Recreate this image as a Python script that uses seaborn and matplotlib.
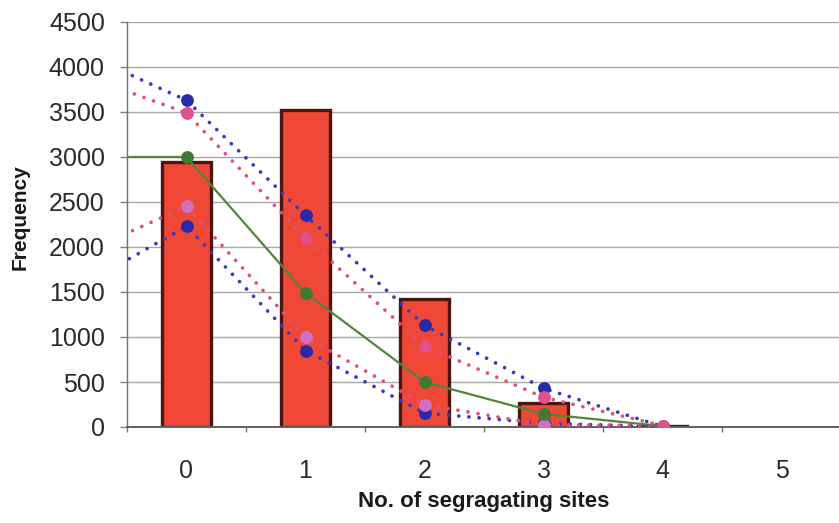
import matplotlib
matplotlib.use("Agg")
import matplotlib.pyplot as plt
import seaborn as sns
import pandas as pd
import numpy as np

# ---- data ----
categories = [0, 1, 2, 3, 4]
frequency = [2940, 3520, 1420, 270, 15]

line_x = [-1, 0, 1, 2, 3, 4]
expected_green = [3000, 3000, 1490, 500, 145, 10]
upper_blue = [4230, 3630, 2350, 1130, 430, 5]
upper_pink = [3970, 3490, 2100, 900, 330, 15]
lower_pink = [1860, 2450, 1000, 250, 25, 15]
lower_blue = [1480, 2230, 850, 155, 40, 5]

tick_labels = ["0", "1", "2", "3", "4", "5"]
y_ticks = [0, 500, 1000, 1500, 2000, 2500, 3000, 3500, 4000, 4500]

sns.set_theme(style="white")
plt.rcParams['font.family'] = ['Liberation Sans', 'DejaVu Sans']

W, H = 839, 523
fig = plt.figure(figsize=(W / 100, H / 100), dpi=100)
left, right, top, bottom = 127, 839, 22, 427
ax = fig.add_axes([left / W, 1 - bottom / H, (right - left) / W, (bottom - top) / H])

bars_df = pd.DataFrame({"sites": categories, "freq": frequency})
sns.barplot(data=bars_df, x="sites", y="freq", ax=ax, color="#f04836",
            saturation=1, width=0.41, edgecolor="#4a1710", linewidth=2.4,
            zorder=2)

def draw(vals, lcolor, mcolor, dotted, lw, ms, z):
    df = pd.DataFrame({"x": line_x, "y": vals})
    ls = (0, (0.01, 2.7)) if dotted else "-"
    sns.lineplot(data=df, x="x", y="y", ax=ax, sort=False, color=lcolor,
                 linewidth=lw, linestyle=ls, zorder=4,
                 dash_capstyle="round")
    pts = df[df["x"] >= 0]
    sns.scatterplot(data=pts, x="x", y="y", ax=ax, color=mcolor, s=ms,
                    edgecolor=mcolor, linewidth=0, zorder=z)

draw(upper_blue, "#3a3ac0", "#2a2aa8", True, 2.7, 85, 5.0)
draw(lower_blue, "#3a3ac0", "#2a2aa8", True, 2.7, 85, 5.0)
draw(lower_pink, "#e0507e", "#d070c0", True, 2.7, 85, 5.1)
draw(expected_green, "#52843c", "#3e7a34", False, 1.6, 85, 5.2)
draw(upper_pink, "#e0507e", "#e0508a", True, 2.7, 85, 5.3)

ax.set_xlim(-0.5, -0.5 + (right - left) / 119.0)
ax.set_ylim(0, 4500)
ax.set_yticks(y_ticks)
ax.set_yticklabels([str(v) for v in y_ticks])
ax.set_xticks(range(6))
ax.set_xticklabels(tick_labels)
ax.set_xticks([-0.5, 0.5, 1.5, 2.5, 3.5, 4.5], minor=True)

ax.grid(axis="y", color="#a8a8a8", linewidth=1.0, zorder=0)
ax.set_axisbelow(True)
for s in ["top", "right"]:
    ax.spines[s].set_visible(False)
ax.spines["left"].set_color("#707070")
ax.spines["left"].set_linewidth(1.0)
ax.spines["bottom"].set_color("#606060")
ax.spines["bottom"].set_linewidth(1.4)

ax.tick_params(axis="y", which="major", left=True, length=5, width=1,
               color="#808080", pad=11, labelsize=18, labelcolor="#2a2a2a")
ax.tick_params(axis="x", which="major", bottom=False, length=0, pad=23,
               labelsize=18, labelcolor="#2a2a2a")
ax.tick_params(axis="x", which="minor", bottom=True, length=3.5, width=1,
               color="#707070")

ax.set_xlabel("No. of segragating sites", fontsize=16, fontweight="bold",
              color="#1a1a1a")
ax.set_ylabel("Frequency", fontsize=15, fontweight="bold", color="#1a1a1a")
ax.xaxis.set_label_coords((484 - left) / (right - left), -(502 - bottom) / (bottom - top))
ax.yaxis.set_label_coords(-(left - 20) / (right - left), (bottom - 217) / (bottom - top))
ax.xaxis.label.set_va("center")
ax.yaxis.label.set_va("center")

fig.savefig("out.png", dpi=100, facecolor="white")
